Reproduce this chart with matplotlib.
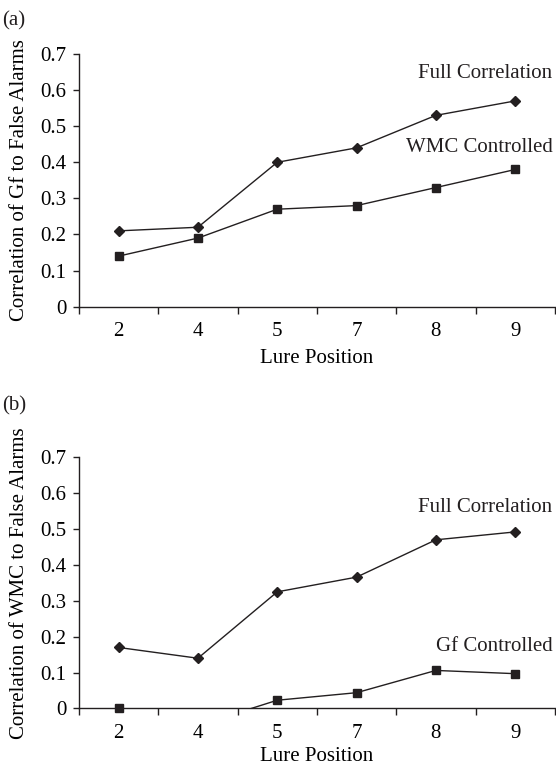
import numpy as np
import matplotlib
matplotlib.use('Agg')
import matplotlib.pyplot as plt

positions = ['2', '4', '5', '7', '8', '9']
yticks = [0, 0.1, 0.2, 0.3, 0.4, 0.5, 0.6, 0.7]
ytick_labels = ['0', '0.1', '0.2', '0.3', '0.4', '0.5', '0.6', '0.7']

# panel (a): Gf to false alarms
gf_full = [0.21, 0.22, 0.40, 0.44, 0.53, 0.57]
gf_wmc_ctrl = [0.14, 0.19, 0.27, 0.28, 0.33, 0.38]

# panel (b): WMC to false alarms
wmc_full = [0.17, 0.14, 0.325, 0.366, 0.47, 0.492]
wmc_gf_ctrl = [0.0, -0.047, 0.023, 0.044, 0.106, 0.097]

plt.rcParams['font.family'] = 'Liberation Serif'
plt.rcParams['font.size'] = 15
ink = '#231f20'

fig = plt.figure(figsize=(5.56, 7.68), dpi=100)
ax_a = fig.add_axes([0.142, 0.6007, 0.856, 0.329])
ax_b = fig.add_axes([0.142, 0.0775, 0.856, 0.3271])


def draw_series(ax, vals, marker, ms):
    x = np.arange(len(vals))
    v = np.array(vals)
    ax.plot(x, v, '-', color=ink, lw=1.0)
    # markers drawn unclipped so the one sitting on 0 shows whole;
    # the negative value stays hidden below the axis
    ax.plot(x, np.ma.masked_less(v, 0), linestyle='none', marker=marker,
            ms=ms, color=ink, clip_on=False, zorder=5)


def style_axes(ax, ylabel, xpad):
    ax.set_xlim(-0.5, len(positions) - 0.5)
    ax.set_ylim(0, 0.7)
    ax.set_yticks(yticks)
    ax.set_yticklabels(ytick_labels)
    ax.set_xticks(np.arange(len(positions)))
    ax.set_xticklabels(positions)
    ax.set_xticks(np.arange(len(positions) + 1) - 0.5, minor=True)
    ax.tick_params(axis='x', which='major', length=0, pad=11)
    ax.tick_params(axis='x', which='minor', length=5, direction='out',
                   color=ink, width=1)
    ax.tick_params(axis='y', length=4.3, direction='out', color=ink, width=1,
                   pad=4.5)
    for s in ['top', 'right']:
        ax.spines[s].set_visible(False)
    for s in ['left', 'bottom']:
        ax.spines[s].set_color(ink)
        ax.spines[s].set_linewidth(1)
    ax.set_xlabel('Lure Position', labelpad=xpad)
    ax.set_ylabel(ylabel, labelpad=8.5)


draw_series(ax_a, gf_full, 'D', 4.8)
draw_series(ax_a, gf_wmc_ctrl, 's', 5.3)
style_axes(ax_a, 'Correlation of Gf to False Alarms', 6)
ax_a.text(0.995, 0.645, 'Full Correlation', transform=ax_a.get_yaxis_transform(),
          ha='right', va='center', color=ink)
ax_a.text(0.995, 0.44, 'WMC Controlled', transform=ax_a.get_yaxis_transform(),
          ha='right', va='center', color=ink)

draw_series(ax_b, wmc_full, 'D', 4.8)
draw_series(ax_b, wmc_gf_ctrl, 's', 5.3)
style_axes(ax_b, 'Correlation of WMC to False Alarms', 3)
ax_b.text(0.995, 0.56, 'Full Correlation', transform=ax_b.get_yaxis_transform(),
          ha='right', va='center', color=ink)
ax_b.text(0.995, 0.174, 'Gf Controlled', transform=ax_b.get_yaxis_transform(),
          ha='right', va='center', color=ink)

fig.text(0.004, 0.973, '(a)', ha='left', va='center', color=ink)
fig.text(0.004, 0.472, '(b)', ha='left', va='center', color=ink)

fig.savefig('out.png', dpi=100)
